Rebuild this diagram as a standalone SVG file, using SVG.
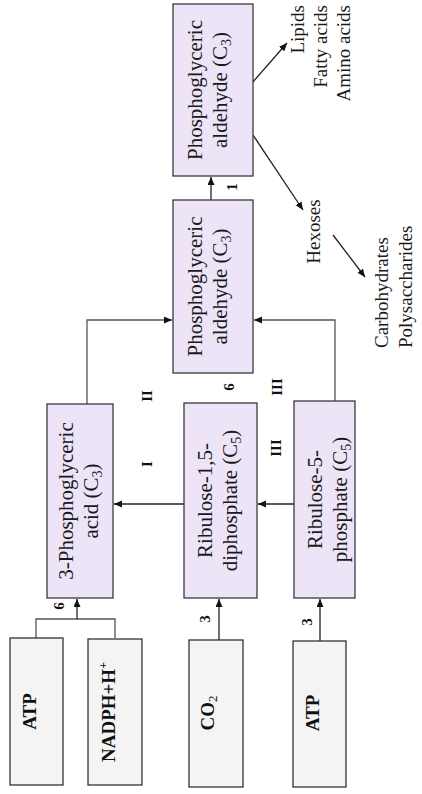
<svg xmlns="http://www.w3.org/2000/svg" width="422" height="794" viewBox="0 0 422 794">
<defs>
<marker id="ah" markerWidth="9" markerHeight="8" refX="8" refY="3.5" orient="auto" markerUnits="userSpaceOnUse">
<path d="M0,0 L8,3.5 L0,7 z" fill="#111"/>
</marker>
<style>
.gbox{fill:#f4f4f4;stroke:#333;stroke-width:1.3}
.pbox{fill:#ede4f8;stroke:#3a3a3a;stroke-width:1.3}
.t{font-family:"Liberation Serif","Times New Roman",serif;fill:#1a1a1a}
.bt{font-family:"Liberation Serif","Times New Roman",serif;font-weight:bold;font-size:19px;fill:#111;text-anchor:middle}
.bx{font-size:21px;text-anchor:middle}
.fr{font-size:19px}
.lab{font-family:"Liberation Serif","Times New Roman",serif;font-weight:bold;font-size:15px;fill:#111;text-anchor:middle;dominant-baseline:central}
.ln{fill:none;stroke:#222;stroke-width:1.3}
.gl{fill:none;stroke:#555;stroke-width:1.3}
</style>
</defs>

<g id="connectors">
<path class="gl" d="M36,638 V619 H115 V638"/>
<path class="ln" d="M77,619 V599" marker-end="url(#ah)"/>
<path class="ln" d="M219,640 V599" marker-end="url(#ah)"/>
<path class="ln" d="M320,641 V599" marker-end="url(#ah)"/>
<path class="ln" d="M294,504 H258" marker-end="url(#ah)"/>
<path class="ln" d="M184,504 H114" marker-end="url(#ah)"/>
<path class="gl" d="M87,404 V320 H172" marker-end="url(#ah)"/>
<path class="gl" d="M335,401 V320 H254" marker-end="url(#ah)"/>
<path class="ln" d="M211,200 V177" marker-end="url(#ah)"/>
<path class="ln" d="M253,82 L287,43" marker-end="url(#ah)"/>
<path class="ln" d="M253,135 L303,210" marker-end="url(#ah)"/>
<path class="ln" d="M333,235 L365,277" marker-end="url(#ah)"/>
</g>

<g id="atp1">
<rect class="gbox" x="10" y="638" width="53" height="147"/>
<text class="bt" transform="translate(36,711.5) rotate(-90)">ATP</text>
</g>
<g id="nadph">
<rect class="gbox" x="88" y="639" width="54" height="146"/>
<text class="bt" transform="translate(115,712) rotate(-90)">NADPH+H<tspan font-size="12" dy="-8">+</tspan></text>
</g>
<g id="co2">
<rect class="gbox" x="189" y="640" width="54" height="147"/>
<text class="bt" transform="translate(214,713) rotate(-90)">CO<tspan font-size="13" font-weight="normal" dy="3">2</tspan></text>
</g>
<g id="atp2">
<rect class="gbox" x="293" y="641" width="53" height="146"/>
<text class="bt" transform="translate(319,713) rotate(-90)">ATP</text>
</g>

<g id="pga">
<rect class="pbox" x="47" y="404" width="66" height="194"/>
<text class="t bx" transform="translate(73,501) rotate(-90)"><tspan x="0" y="0">3-Phosphoglyceric</tspan><tspan x="0" y="25">acid (C<tspan font-size="14" dy="4">3</tspan><tspan dy="-4">)</tspan></tspan></text>
</g>
<g id="rubp">
<rect class="pbox" x="184" y="403" width="73" height="195"/>
<text class="t bx" transform="translate(212,500.5) rotate(-90)"><tspan x="0" y="0">Ribulose-1,5-</tspan><tspan x="0" y="25">diphosphate (C<tspan font-size="14" dy="4">5</tspan><tspan dy="-4">)</tspan></tspan></text>
</g>
<g id="ru5p">
<rect class="pbox" x="294" y="401" width="61" height="197"/>
<text class="t bx" transform="translate(322,499.5) rotate(-90)"><tspan x="0" y="0">Ribulose-5-</tspan><tspan x="0" y="25">phosphate (C<tspan font-size="14" dy="4">5</tspan><tspan dy="-4">)</tspan></tspan></text>
</g>
<g id="pgald1">
<rect class="pbox" x="173" y="200" width="80" height="173"/>
<text class="t bx" transform="translate(202,286.5) rotate(-90)"><tspan x="0" y="0">Phosphoglyceric</tspan><tspan x="0" y="25">aldehyde (C<tspan font-size="14" dy="4">3</tspan><tspan dy="-4">)</tspan></tspan></text>
</g>
<g id="pgald2">
<rect class="pbox" x="173" y="4" width="80" height="172"/>
<text class="t bx" transform="translate(202,90) rotate(-90)"><tspan x="0" y="0">Phosphoglyceric</tspan><tspan x="0" y="25">aldehyde (C<tspan font-size="14" dy="4">3</tspan><tspan dy="-4">)</tspan></tspan></text>
</g>

<g id="products1">
<text class="t fr" text-anchor="end" transform="translate(304,5) rotate(-90)">Lipids</text>
<text class="t fr" text-anchor="end" transform="translate(327,5) rotate(-90)">Fatty acids</text>
<text class="t fr" text-anchor="end" transform="translate(350,5) rotate(-90)">Amino acids</text>
</g>
<g id="hexoses">
<text class="t fr" text-anchor="middle" transform="translate(320,231.5) rotate(-90)">Hexoses</text>
</g>
<g id="products2">
<text class="t fr" text-anchor="start" transform="translate(388,348) rotate(-90)">Carbohydrates</text>
<text class="t fr" text-anchor="start" transform="translate(412,348) rotate(-90)">Polysaccharides</text>
</g>

<g id="labels">
<text class="lab" transform="translate(59,606) rotate(-90)">6</text>
<text class="lab" transform="translate(205,619) rotate(-90)">3</text>
<text class="lab" transform="translate(307,622) rotate(-90)">3</text>
<text class="lab" transform="translate(232,187) rotate(-90)">1</text>
<text class="lab" transform="translate(229,387) rotate(-90)">6</text>
<text class="lab" transform="translate(277,387) rotate(-90)">III</text>
<text class="lab" transform="translate(147,396) rotate(-90)">II</text>
<text class="lab" transform="translate(147,464) rotate(-90)">I</text>
<text class="lab" transform="translate(276,448) rotate(-90)">III</text>
</g>
</svg>
